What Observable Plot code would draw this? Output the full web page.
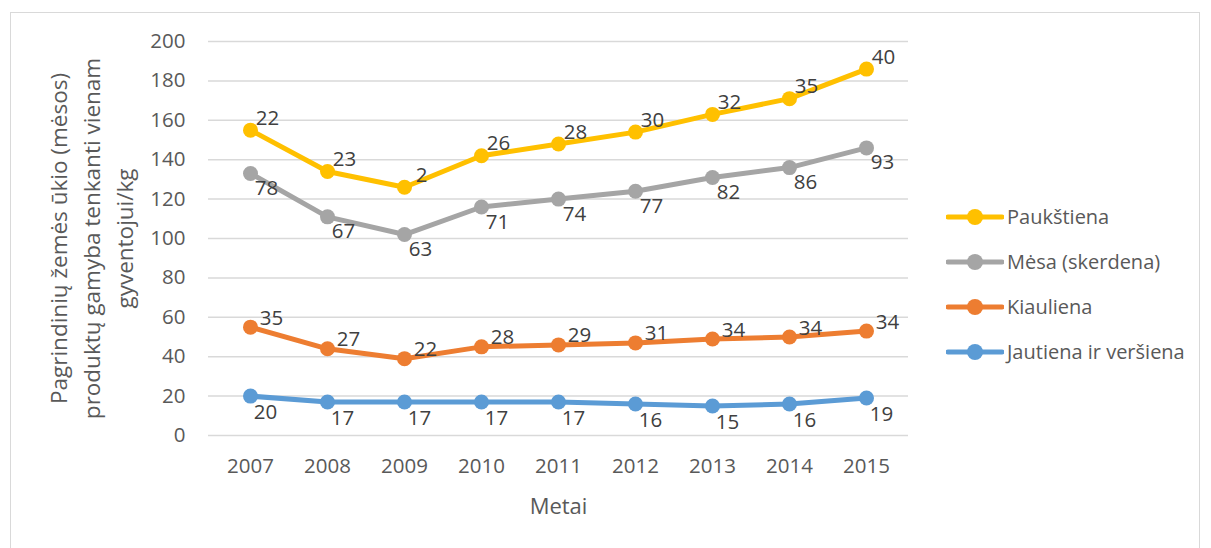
<!DOCTYPE html>
<html>
<head>
<meta charset="utf-8">
<script src="https://cdn.jsdelivr.net/npm/d3@7"></script>
<script src="https://cdn.jsdelivr.net/npm/@observablehq/plot@0.6"></script>
<style>
  html, body { margin: 0; padding: 0; background: #fff; overflow: hidden; width: 1211px; height: 548px; }
  #wrap { position: relative; width: 1211px; height: 548px; font-family: "Open Sans", sans-serif; }
  #frame { position: absolute; left: 10px; top: 12px; width: 1190px; height: 560px; border: 1.5px solid #d9d9d9; box-sizing: border-box; }
  #chart { position: absolute; left: 0; top: 0; }
  #legend { position: absolute; left: 946px; top: 194px; }
  .item { display: flex; align-items: center; height: 45px; font-size: 20px; color: #595959; }
  .item svg { margin-right: 3px; }
</style>
</head>
<body>
<div id="wrap">
  <div id="frame"></div>
  <div id="chart"></div>
  <div id="legend"></div>
</div>
<script>
const years = [2007, 2008, 2009, 2010, 2011, 2012, 2013, 2014, 2015];
const seriesNames = ["Paukštiena", "Mėsa (skerdena)", "Kiauliena", "Jautiena ir veršiena"];
const seriesColors = ["#FFC000", "#A5A5A5", "#ED7D31", "#5B9BD5"];

const paukstiena = [155, 134, 126, 142, 148, 154, 163, 171, 186];
const mesa = [133, 111, 102, 116, 120, 124, 131, 136, 146];
const kiauliena = [55, 44, 39, 45, 46, 47, 49, 50, 53];
const jautiena = [20, 17, 17, 17, 17, 16, 15, 16, 19];

const paukstienaLabels = ["22", "23", "2", "26", "28", "30", "32", "35", "40"];
const mesaLabels = ["78", "67", "63", "71", "74", "77", "82", "86", "93"];
const kiaulienaLabels = ["35", "27", "22", "28", "29", "31", "34", "34", "34"];
const jautienaLabels = ["20", "17", "17", "17", "17", "16", "15", "16", "19"];

const yTicks = [0, 20, 40, 60, 80, 100, 120, 140, 160, 180, 200];
const yTitle = "Pagrindinių žemės ūkio (mėsos)\nproduktų gamyba tenkanti vienam\ngyventojui/kg";
const xTitle = "Metai";

const seriesValues = [paukstiena, mesa, kiauliena, jautiena];
const seriesLabels = [paukstienaLabels, mesaLabels, kiaulienaLabels, jautienaLabels];
const labelStyle = [
  {dx: 17, dy: -12},
  {dx: 16, dy: 15},
  {dx: 21, dy: -9},
  {dx: 15, dy: 16}
];

const rows = seriesNames.flatMap((s, i) =>
  years.map((yr, j) => ({series: s, year: yr, value: seriesValues[i][j], label: seriesLabels[i][j]}))
);

const textMarks = seriesNames.map((s, i) =>
  Plot.text(rows.filter(d => d.series === s), {
    x: "year", y: "value", text: "label",
    dx: labelStyle[i].dx, dy: labelStyle[i].dy,
    fill: "#404040", fontSize: 20.5, fontFamily: "Open Sans"
  })
);

const chart = Plot.plot({
  width: 1211,
  height: 548,
  marginLeft: 208,
  marginRight: 303,
  marginTop: 41,
  marginBottom: 113,
  style: {fontFamily: "Open Sans", background: "transparent", overflow: "visible"},
  x: {type: "point", domain: years, padding: 0.5, label: null},
  y: {domain: [0, 200], label: null},
  color: {domain: seriesNames, range: seriesColors},
  marks: [
    Plot.gridY(yTicks, {stroke: "#d9d9d9", strokeOpacity: 1, strokeWidth: 1.5}),
    Plot.axisY(yTicks, {tickSize: 0, tickPadding: 23, fontSize: 20.5, fill: "#595959", label: null}),
    Plot.axisX(years, {tickSize: 0, tickPadding: 23, fontSize: 20.5, fill: "#595959", label: null, tickFormat: d => String(d)}),
    Plot.line(rows, {x: "year", y: "value", z: "series", stroke: "series", strokeWidth: 5, strokeLinejoin: "round", strokeLinecap: "round"}),
    Plot.dot(rows, {x: "year", y: "value", fill: "series", r: 7.5, stroke: "none"}),
    ...textMarks,
    Plot.text([xTitle], {frameAnchor: "bottom", text: d => d, dy: 78, fontSize: 22, fill: "#595959"}),
    Plot.text([yTitle], {frameAnchor: "left", text: d => d, rotate: -90, dx: -165, textAnchor: "middle", fontSize: 22.5, lineHeight: 1.47, fill: "#595959", lineAnchor: "top"})
  ]
});
document.getElementById("chart").appendChild(chart);

const legend = document.getElementById("legend");
seriesNames.forEach((s, i) => {
  const item = document.createElement("div");
  item.className = "item";
  item.innerHTML = `<svg width="58" height="20"><line x1="2" y1="10" x2="56" y2="10" stroke="${seriesColors[i]}" stroke-width="5" stroke-linecap="round"/><circle cx="29" cy="10" r="8" fill="${seriesColors[i]}"/></svg><span>${s}</span>`;
  legend.appendChild(item);
});
</script>
</body>
</html>
